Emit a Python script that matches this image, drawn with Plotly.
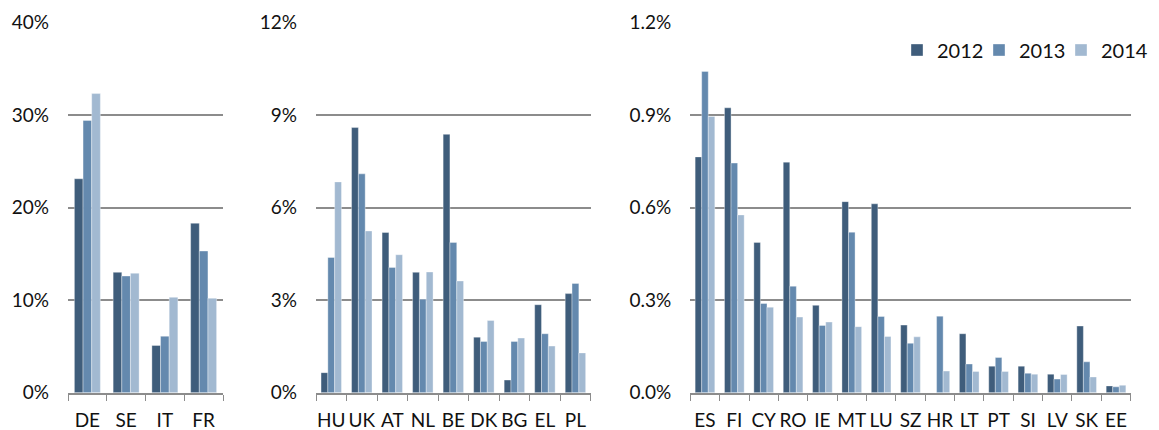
import plotly.graph_objects as go

years = ["2012", "2013", "2014"]
colors = ["#3F5D7B", "#6489AE", "#A2B9D1"]

# Panel 1 (percent)
cat1 = ["DE", "SE", "IT", "FR"]
p1_2012 = [23.1, 13.0, 5.1, 18.3]
p1_2013 = [29.4, 12.6, 6.1, 15.3]
p1_2014 = [32.3, 12.9, 10.3, 10.2]

# Panel 2 (percent)
cat2 = ["HU", "UK", "AT", "NL", "BE", "DK", "BG", "EL", "PL"]
p2_2012 = [0.65, 8.59, 5.19, 3.90, 8.37, 1.80, 0.41, 2.85, 3.21]
p2_2013 = [4.38, 7.09, 4.06, 3.03, 4.87, 1.66, 1.66, 1.91, 3.54]
p2_2014 = [6.83, 5.24, 4.47, 3.91, 3.62, 2.34, 1.77, 1.51, 1.29]

# Panel 3 (percent)
cat3 = ["ES", "FI", "CY", "RO", "IE", "MT", "LU", "SZ", "HR", "LT", "PT", "SI", "LV", "SK", "EE"]
p3_2012 = [0.764, 0.923, 0.487, 0.747, 0.283, 0.619, 0.612, 0.219, 0.0, 0.191, 0.086, 0.086, 0.060, 0.216, 0.022]
p3_2013 = [1.041, 0.744, 0.289, 0.345, 0.218, 0.520, 0.247, 0.160, 0.248, 0.093, 0.114, 0.063, 0.044, 0.100, 0.019]
p3_2014 = [0.895, 0.576, 0.277, 0.245, 0.229, 0.214, 0.182, 0.181, 0.070, 0.069, 0.069, 0.060, 0.059, 0.051, 0.024]

y1_ticks = [0, 10, 20, 30, 40]
y2_ticks = [0, 3, 6, 9, 12]
y3_ticks = [0.0, 0.3, 0.6, 0.9, 1.2]

FONT = "Lato, 'Open Sans', sans-serif"
OFF = 8  # page body margin
W, H = 1159 - OFF, 430 - OFF

fig = go.Figure()

panels = [
    (cat1, [p1_2012, p1_2013, p1_2014], "x", "y"),
    (cat2, [p2_2012, p2_2013, p2_2014], "x2", "y2"),
    (cat3, [p3_2012, p3_2013, p3_2014], "x3", "y3"),
]
for pi, (cats, series, xa, ya) in enumerate(panels):
    for si, vals in enumerate(series):
        fig.add_trace(go.Bar(
            x=cats, y=vals, name=years[si], xaxis=xa, yaxis=ya,
            marker=dict(color=colors[si], line=dict(color="rgba(255,255,255,0.6)", width=0.6)),
            showlegend=(pi == 2), hoverinfo="x+y",
        ))

# invisible spacer legend entry (on a hidden axis) so the last legend label is not clipped
fig.add_trace(go.Scatter(x=[None], y=[None], name=" ", xaxis="x4", yaxis="y4",
                         mode="markers", marker=dict(opacity=0),
                         showlegend=True, hoverinfo="skip"))

def fx(px):
    return (px - OFF) / W

def fy(py):
    return 1 - (py - OFF) / H

ydom = [fy(392.7), fy(22.3)]

grid = dict(showgrid=True, gridcolor="#8c8c8c", gridwidth=1.7, zeroline=False,
            showline=False, ticks="", tickfont=dict(family=FONT, size=19, color="#111"),
            ticklabelstandoff=18, automargin=False)
xcommon = dict(type="category", showgrid=False, zeroline=False, showline=True,
               linecolor="#8c8c8c", linewidth=1.7, ticks="outside", tickson="boundaries",
               ticklen=6, tickcolor="#8c8c8c", tickwidth=1.3, tickangle=0,
               tickfont=dict(family=FONT, size=19, color="#111"), ticklabelstandoff=10,
               automargin=False)

fig.update_layout(
    template="none",
    width=W, height=H,
    margin=dict(l=0, r=0, t=0, b=0, autoexpand=False),
    paper_bgcolor="white", plot_bgcolor="white",
    barmode="group", bargap=0.33, bargroupgap=0.0,
    font=dict(family=FONT, size=19, color="#111"),
    xaxis=dict(domain=[fx(68), fx(223)], anchor="y", **xcommon),
    xaxis2=dict(domain=[fx(316), fx(590.7)], anchor="y2", **xcommon),
    xaxis3=dict(domain=[fx(690.3), fx(1130.7)], anchor="y3", **xcommon),
    xaxis4=dict(domain=[0.98, 1.0], anchor="y4", visible=False, showgrid=False),
    yaxis=dict(domain=ydom, anchor="x", range=[0, 40], tickvals=y1_ticks,
               ticktext=[f"{v}%" for v in y1_ticks], **grid),
    yaxis2=dict(domain=ydom, anchor="x2", range=[0, 12], tickvals=y2_ticks,
                ticktext=[f"{v}%" for v in y2_ticks], **grid),
    yaxis3=dict(domain=ydom, anchor="x3", range=[0, 1.2], tickvals=y3_ticks,
                ticktext=[f"{v:.1f}%" for v in y3_ticks], **grid),
    yaxis4=dict(domain=[0.98, 1.0], anchor="x4", visible=False, showgrid=False),
    legend=dict(orientation="h", x=fx(897), xanchor="left", y=fy(50), yanchor="middle",
                font=dict(family=FONT, size=20, color="#111"), bgcolor="rgba(0,0,0,0)",
                itemwidth=30, tracegroupgap=0, entrywidth=37, entrywidthmode="pixels",
                itemclick=False, itemdoubleclick=False),
)

fig.write_html("out.html")
